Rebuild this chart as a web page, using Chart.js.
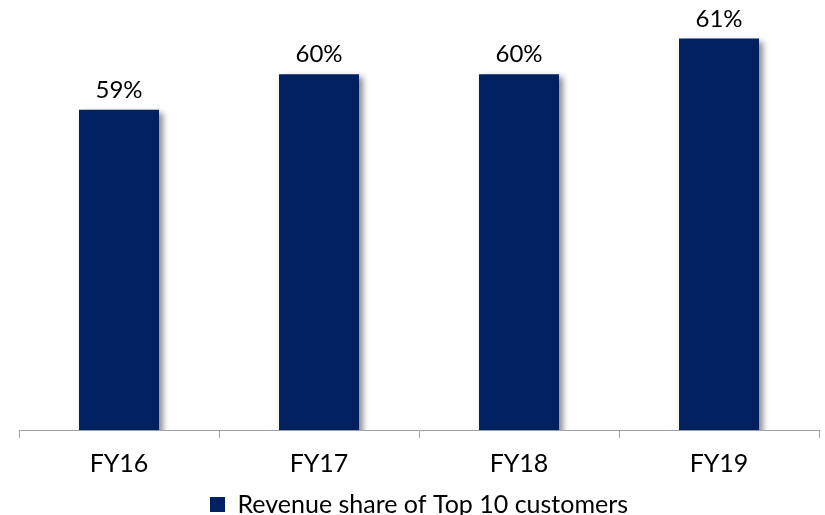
<!DOCTYPE html>
<html>
<head>
<meta charset="utf-8">
<title>Revenue share of Top 10 customers</title>
<script src="https://cdn.jsdelivr.net/npm/chart.js@4/dist/chart.umd.min.js"></script>
<style>
  html, body { margin: 0; padding: 0; background: #fff; }
  #wrap { width: 825px; height: 515px; }
</style>
</head>
<body>
<div id="wrap"><canvas id="shareChart" width="825" height="515"></canvas></div>
<script>
// data
const years = ['FY16', 'FY17', 'FY18', 'FY19'];
const topTenShare = [59, 60, 60, 61];
const seriesName = 'Revenue share of Top 10 customers';

const barColor = '#002060';
const fontFamily = 'Lato, "Open Sans", sans-serif';

// soft drop shadow behind the bars
const barShadow = {
  id: 'barShadow',
  beforeDatasetsDraw(chart) {
    const ctx = chart.ctx;
    ctx.save();
    ctx.shadowColor = 'rgba(0,0,0,0.45)';
    ctx.shadowBlur = 6;
    ctx.shadowOffsetX = 4;
    ctx.shadowOffsetY = 3;
  },
  afterDatasetsDraw(chart) {
    chart.ctx.restore();
  }
};

// value labels above each bar
const valueLabels = {
  id: 'valueLabels',
  afterDatasetsDraw(chart) {
    const ctx = chart.ctx;
    const meta = chart.getDatasetMeta(0);
    ctx.save();
    ctx.fillStyle = '#000';
    ctx.font = '24px ' + fontFamily;
    ctx.textAlign = 'center';
    ctx.textBaseline = 'alphabetic';
    meta.data.forEach((bar, i) => {
      ctx.fillText(topTenShare[i] + '%', bar.x, bar.y - 12);
    });
    ctx.restore();
  }
};

function initChart() {
  const ctx = document.getElementById('shareChart').getContext('2d');

  const data = {
    labels: years,
    datasets: [{
      label: seriesName,
      data: topTenShare,
      backgroundColor: barColor,
      borderWidth: 0,
      categoryPercentage: 1,
      barPercentage: 0.4
    }]
  };

  const options = {
    responsive: false,
    animation: false,
    layout: {
      padding: { left: 19, right: 6, top: 3, bottom: -12 }
    },
    scales: {
      x: {
        grid: {
          display: true,
          drawOnChartArea: false,
          drawTicks: true,
          tickLength: 8,
          color: '#a0a0a0',
          offset: true
        },
        border: { color: '#a0a0a0', width: 1 },
        ticks: {
          color: '#000',
          padding: 11,
          font: { family: fontFamily, size: 25 }
        }
      },
      y: {
        display: false,
        min: 50,
        max: 62
      }
    },
    plugins: {
      legend: {
        position: 'bottom',
        labels: {
          color: '#000',
          boxWidth: 15,
          boxHeight: 15,
          padding: 2,
          font: { family: fontFamily, size: 25 }
        }
      },
      tooltip: { enabled: false }
    }
  };

  new Chart(ctx, {
    type: 'bar',
    data: data,
    options: options,
    plugins: [barShadow, valueLabels]
  });
}

window.addEventListener('DOMContentLoaded', initChart);
</script>
</body>
</html>
